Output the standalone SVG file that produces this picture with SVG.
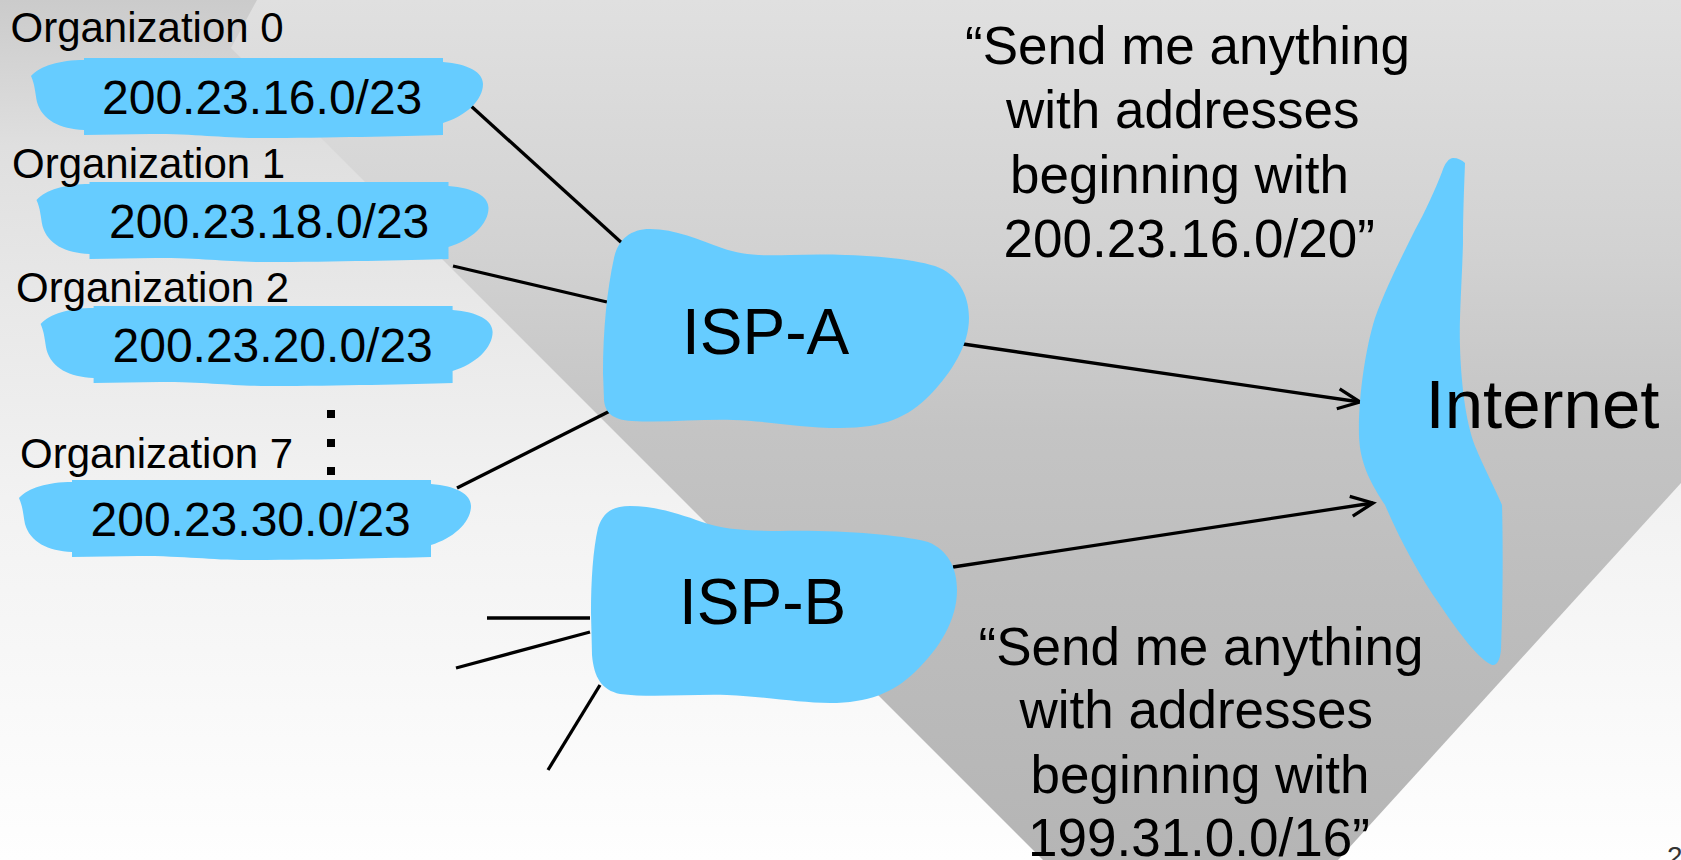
<svg xmlns="http://www.w3.org/2000/svg" width="1681" height="860" viewBox="0 0 1681 860">
<defs>
<linearGradient id="bg" x1="0" y1="0" x2="0" y2="860" gradientUnits="userSpaceOnUse">
<stop offset="0" stop-color="#cbcbcb"/>
<stop offset="0.17" stop-color="#dfdfdf"/>
<stop offset="0.35" stop-color="#e8e8e8"/>
<stop offset="0.58" stop-color="#f2f2f2"/>
<stop offset="1" stop-color="#fefefe"/>
</linearGradient>
<linearGradient id="band" x1="0" y1="0" x2="0" y2="860" gradientUnits="userSpaceOnUse">
<stop offset="0" stop-color="#e0e0e0"/>
<stop offset="0.29" stop-color="#d2d2d2"/>
<stop offset="0.5" stop-color="#c4c4c4"/>
<stop offset="0.7" stop-color="#bdbdbd"/>
<stop offset="1" stop-color="#b5b5b5"/>
</linearGradient>
<marker id="arrow" markerUnits="userSpaceOnUse" markerWidth="30" markerHeight="30" viewBox="-26 -14 30 28" refX="0" refY="0" orient="auto" overflow="visible">
<path d="M-22,-10 L0,0 L-22,10" fill="none" stroke="#000" stroke-width="3.3"/>
</marker>
<path id="orgblob" d="M84,58 L443,58 L443,62 C468,64 483,72 483,84 C483,100 466,116 443,123 L443,135 C400,136 330,138 260,138 C220,138 200,134 150,134 L84,135 L84,130 C60,129 42,120 37,102 C35,92 35,85 31,76 C40,66 60,60 84,60 Z"/>
</defs>
<style>
.blob{fill:#66ccff}
.lbl{font-family:"Liberation Sans",Arial,sans-serif;fill:#000}
.org{font-size:42px}
.pfx{font-size:48px}
.isp{font-size:64px}
.net{font-size:69px}
.quote{font-size:53px}
.link{stroke:#000;stroke-width:3.3;fill:none}
.dot{fill:#000}
</style>

<g id="background">
<rect x="0" y="0" width="1681" height="860" fill="url(#bg)"/>
<path d="M257,0 L1681,0 L1681,483 L1338,860 L1043,860 L231,48 Z" fill="url(#band)"/>
</g>

<g id="connectors">
<line class="link" x1="471" y1="106" x2="623" y2="244"/>
<line class="link" x1="453" y1="266" x2="607" y2="302"/>
<line class="link" x1="457" y1="488" x2="610" y2="411"/>
<line class="link" x1="963" y1="344" x2="1360" y2="402" marker-end="url(#arrow)"/>
<line class="link" x1="953" y1="567" x2="1373" y2="503" marker-end="url(#arrow)"/>
<line class="link" x1="487" y1="618" x2="590" y2="618"/>
<line class="link" x1="456" y1="668" x2="590" y2="632"/>
<line class="link" x1="548" y1="770" x2="600" y2="685"/>
</g>

<g id="org0">
<use href="#orgblob" class="blob"/>
<text class="lbl org" x="10.5" y="41.5">Organization 0</text>
<text class="lbl pfx" x="102" y="114">200.23.16.0/23</text>
</g>
<g id="org1">
<use href="#orgblob" class="blob" transform="translate(5.5,124)"/>
<text class="lbl org" x="12" y="178">Organization 1</text>
<text class="lbl pfx" x="109" y="238">200.23.18.0/23</text>
</g>
<g id="org2">
<use href="#orgblob" class="blob" transform="translate(9.6,248)"/>
<text class="lbl org" x="16" y="301.5">Organization 2</text>
<text class="lbl pfx" x="112.5" y="362">200.23.20.0/23</text>
</g>
<g id="ellipsis">
<rect class="dot" x="327" y="410" width="8" height="8"/>
<rect class="dot" x="327" y="439" width="8" height="8"/>
<rect class="dot" x="327" y="467" width="8" height="8"/>
</g>
<g id="org7">
<use href="#orgblob" class="blob" transform="translate(-12,422)"/>
<text class="lbl org" x="20" y="468">Organization 7</text>
<text class="lbl pfx" x="90.5" y="536">200.23.30.0/23</text>
</g>

<g id="isp-a">
<path class="blob" d="M603,373 C603,330 607,290 614,258 C618,240 630,229 650,229 C675,229 700,240 722,248 C742,255 760,256 790,255 C850,253 905,257 935,266 C958,274 969,295 969,318 C969,345 952,372 930,395 C908,417 885,428 840,428 C800,428 770,421 733,420 C700,419 665,423 632,421 C612,420 605,412 604,400 Z"/>
<text class="lbl isp" x="682" y="354">ISP-A</text>
</g>

<g id="isp-b">
<path class="blob" d="M591,613 C591,580 593,550 598,528 C603,512 613,506 630,506 C655,506 680,514 702,522 C722,529 745,531 780,531 C840,530 895,534 928,542 C948,550 957,568 957,590 C957,620 940,648 915,672 C893,693 868,703 830,703 C800,703 770,697 727,695 C690,694 650,698 620,694 C602,690 594,678 592,655 Z"/>
<text class="lbl isp" x="679" y="624">ISP-B</text>
</g>

<g id="internet">
<path class="blob" d="M1453,158 C1458,158 1462,160 1465,163 C1464,190 1463,215 1463,243 C1462,280 1459,320 1460,347 C1461,380 1465,420 1475,446 C1483,466 1495,488 1502,505 C1503,540 1503,600 1501,650 C1500,660 1497,666 1492,665 C1480,660 1460,635 1440,605 C1420,577 1400,540 1385,505 C1372,485 1360,465 1359,436 C1358,400 1365,350 1375,318 C1385,290 1400,260 1415,230 C1425,212 1435,190 1442,172 C1445,163 1449,158 1453,158 Z"/>
<text class="lbl net" x="1425.5" y="427.5">Internet</text>
</g>

<g id="note-isp-a">
<text class="lbl quote" x="965" y="64">“Send me anything</text>
<text class="lbl quote" x="1006" y="128">with addresses</text>
<text class="lbl quote" x="1010" y="193">beginning with</text>
<text class="lbl quote" x="1003.5" y="257">200.23.16.0/20”</text>
</g>

<g id="note-isp-b">
<text class="lbl quote" x="978.5" y="665">“Send me anything</text>
<text class="lbl quote" x="1019.5" y="728">with addresses</text>
<text class="lbl quote" x="1030.5" y="793">beginning with</text>
<text class="lbl quote" x="1028" y="856">199.31.0.0/16”</text>
</g>

<text id="page" x="1667" y="866" font-family="Liberation Sans, Arial, sans-serif" font-size="28" fill="#333">2</text>
</svg>
